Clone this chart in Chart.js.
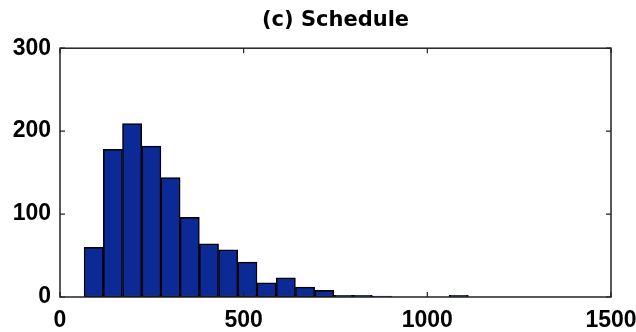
<!DOCTYPE html>
<html>
<head>
<meta charset="utf-8">
<script src="https://cdn.jsdelivr.net/npm/chart.js@4"></script>
<style>
  html, body { margin: 0; padding: 0; background: #fff; }
  #wrap { width: 636px; height: 332px; }
</style>
</head>
<body>
<div id="wrap"><canvas id="histChart" width="636" height="332"></canvas></div>
<script>
// bin centres (schedule values) and counts
const binCenters = [91.7, 144.0, 196.3, 248.6, 300.9, 353.2, 405.5, 457.8, 510.1, 562.4,
                    614.7, 667.0, 719.3, 771.6, 823.9, 876.2, 928.5, 980.8, 1033.1, 1085.4];
const counts = [60, 178, 209, 182, 144, 96, 64, 57, 42, 17,
                23, 12, 8, 2, 2, 1, 0, 0, 0, 2];
const xTicks = [0, 500, 1000, 1500];
const yTicks = [0, 100, 200, 300];

const tickFont = { family: "'Liberation Sans Narrow', 'Liberation Sans', Arial, sans-serif", size: 23, weight: 'bold' };

// box around the plot with inward ticks, matlab style
const boxPlugin = {
  id: 'boxPlugin',
  afterDatasetsDraw(chart) {
    const { ctx, chartArea: a, scales } = chart;
    ctx.save();
    ctx.strokeStyle = '#222';
    ctx.lineWidth = 1.5;
    ctx.strokeRect(a.left, a.top, a.right - a.left, a.bottom - a.top);
    ctx.lineWidth = 1.2;
    ctx.beginPath();
    xTicks.forEach(v => {
      const px = scales.x.getPixelForValue(v);
      ctx.moveTo(px, a.bottom); ctx.lineTo(px, a.bottom - 5);
      ctx.moveTo(px, a.top); ctx.lineTo(px, a.top + 5);
    });
    yTicks.forEach(v => {
      const py = scales.y.getPixelForValue(v);
      ctx.moveTo(a.left, py); ctx.lineTo(a.left + 5, py);
      ctx.moveTo(a.right, py); ctx.lineTo(a.right - 5, py);
    });
    ctx.stroke();
    ctx.restore();
  }
};

const ctx = document.getElementById('histChart').getContext('2d');
new Chart(ctx, {
  type: 'bar',
  data: {
    labels: binCenters,
    datasets: [{
      data: binCenters.map((x, i) => ({ x: x, y: counts[i] })),
      backgroundColor: '#0b2a96',
      borderColor: '#000',
      borderWidth: 1.5,
      borderSkipped: false,
      barPercentage: 1,
      categoryPercentage: 1
    }]
  },
  options: {
    responsive: false,
    animation: false,
    layout: { padding: { left: 0, right: 0, top: 0, bottom: 0 } },
    plugins: {
      legend: { display: false },
      tooltip: { enabled: false },
      title: {
        display: true,
        fullSize: false,
        text: '(c) Schedule',
        color: '#000',
        font: { family: "'DejaVu Sans', sans-serif", size: 21, weight: 'bold' },
        padding: { top: 8, bottom: 15 }
      }
    },
    scales: {
      x: {
        type: 'linear',
        min: 0,
        max: 1500,
        offset: false,
        afterFit(scale) { scale.height = 35; scale.paddingRight = 25; },
        afterBuildTicks(scale) { scale.ticks = xTicks.map(v => ({ value: v })); },
        grid: { display: false, drawTicks: false, offset: false },
        border: { display: false },
        ticks: { color: '#000', font: tickFont, padding: 10, maxRotation: 0, callback: v => String(v) }
      },
      y: {
        min: 0,
        max: 300,
        afterFit(scale) { scale.width = 60; },
        afterBuildTicks(scale) { scale.ticks = yTicks.map(v => ({ value: v })); },
        grid: { display: false, drawTicks: false },
        border: { display: false },
        ticks: { color: '#000', font: tickFont, padding: 9, callback: v => String(v) }
      }
    }
  },
  plugins: [boxPlugin]
});
</script>
</body>
</html>
